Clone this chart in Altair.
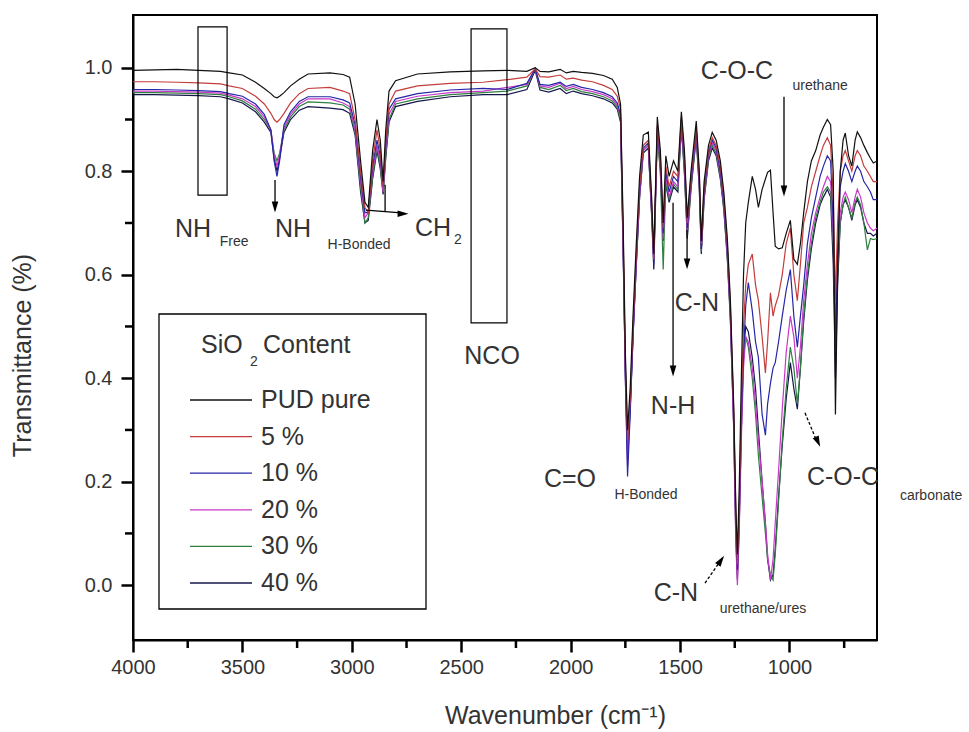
import altair as alt
import pandas as pd

# ---------------- data ----------------
wavenumber = [4000, 3900, 3800, 3700, 3600, 3560, 3500, 3440, 3400, 3370,
              3355, 3342, 3330, 3310, 3280, 3240, 3200, 3100, 3040, 3010,
              2985, 2960, 2940, 2925, 2905, 2885, 2870, 2857, 2845, 2830,
              2800, 2700, 2550, 2400, 2290, 2200, 2162, 2140, 2100, 2048,
              2020, 1988, 1950, 1900, 1850, 1810, 1787, 1772, 1760, 1750,
              1740, 1728, 1715, 1700, 1685, 1668, 1645, 1630, 1620, 1604,
              1590, 1577, 1565, 1550, 1530, 1510, 1494, 1480, 1467, 1450,
              1426, 1412, 1403, 1390, 1370, 1353, 1335, 1316, 1300, 1284,
              1270, 1255, 1245, 1238, 1230, 1220, 1210, 1200, 1188, 1170,
              1155, 1142, 1125, 1110, 1100, 1087, 1075, 1065, 1050, 1033,
              1015, 996, 980, 964, 950, 935, 918, 900, 880, 860,
              845, 827, 812, 800, 790, 780, 768, 755, 745, 730,
              715, 700, 690, 675, 660, 644, 630, 617, 600]

pud_pure = [0.995, 0.996, 0.997, 0.995, 0.993, 0.990, 0.986, 0.972, 0.960, 0.950,
            0.944, 0.942, 0.945, 0.952, 0.965, 0.978, 0.988, 0.990, 0.987, 0.982,
            0.930, 0.820, 0.740, 0.730, 0.840, 0.900, 0.860, 0.780, 0.880, 0.955,
            0.975, 0.988, 0.992, 0.994, 0.995, 0.993, 1.000, 0.993, 0.992, 0.997,
            0.990, 0.993, 0.991, 0.989, 0.985, 0.978, 0.962, 0.930, 0.700, 0.450,
            0.300, 0.380, 0.520, 0.660, 0.790, 0.870, 0.876, 0.750, 0.640, 0.905,
            0.840, 0.700, 0.830, 0.790, 0.820, 0.800, 0.915, 0.840, 0.710, 0.800,
            0.897, 0.800, 0.665, 0.780, 0.850, 0.875, 0.860, 0.820, 0.760, 0.670,
            0.550, 0.350, 0.150, 0.060, 0.180, 0.400, 0.600, 0.700, 0.740, 0.790,
            0.765, 0.730, 0.765, 0.785, 0.798, 0.802, 0.720, 0.655, 0.650, 0.652,
            0.680, 0.705, 0.630, 0.620, 0.660, 0.720, 0.780, 0.820, 0.840, 0.870,
            0.885, 0.900, 0.890, 0.800, 0.330, 0.600, 0.800, 0.860, 0.874, 0.830,
            0.810, 0.860, 0.876, 0.865, 0.850, 0.836, 0.825, 0.816, 0.820]

sio2_5 = [0.973, 0.973, 0.972, 0.971, 0.969, 0.965, 0.960, 0.945, 0.930, 0.912,
          0.900, 0.895, 0.900, 0.912, 0.932, 0.950, 0.960, 0.962, 0.955, 0.950,
          0.900, 0.800, 0.730, 0.720, 0.820, 0.880, 0.840, 0.770, 0.860, 0.930,
          0.955, 0.965, 0.970, 0.972, 0.977, 0.982, 0.998, 0.983, 0.982, 0.986,
          0.978, 0.980, 0.976, 0.973, 0.966, 0.958, 0.945, 0.920, 0.680, 0.430,
          0.280, 0.360, 0.500, 0.640, 0.770, 0.850, 0.860, 0.740, 0.630, 0.890,
          0.830, 0.690, 0.810, 0.770, 0.800, 0.790, 0.905, 0.830, 0.700, 0.790,
          0.885, 0.790, 0.660, 0.770, 0.840, 0.865, 0.850, 0.810, 0.750, 0.660,
          0.540, 0.340, 0.140, 0.040, 0.150, 0.350, 0.500, 0.580, 0.620, 0.640,
          0.580, 0.550, 0.480, 0.410, 0.470, 0.565, 0.520, 0.540, 0.560, 0.600,
          0.660, 0.690, 0.600, 0.550, 0.620, 0.700, 0.730, 0.770, 0.800, 0.830,
          0.850, 0.865, 0.850, 0.750, 0.550, 0.700, 0.800, 0.830, 0.840, 0.820,
          0.800, 0.830, 0.840, 0.830, 0.810, 0.800, 0.790, 0.780, 0.780]

sio2_10 = [0.958, 0.958, 0.957, 0.956, 0.954, 0.950, 0.945, 0.930, 0.910, 0.880,
           0.820, 0.790, 0.820, 0.890, 0.915, 0.935, 0.944, 0.944, 0.938, 0.932,
           0.890, 0.790, 0.720, 0.720, 0.810, 0.860, 0.830, 0.770, 0.850, 0.920,
           0.940, 0.950, 0.957, 0.960, 0.958, 0.970, 0.998, 0.968, 0.966, 0.972,
           0.964, 0.968, 0.962, 0.958, 0.952, 0.944, 0.932, 0.910, 0.660, 0.400,
           0.210, 0.330, 0.480, 0.630, 0.760, 0.845, 0.855, 0.730, 0.620, 0.885,
           0.820, 0.680, 0.800, 0.760, 0.790, 0.780, 0.900, 0.820, 0.690, 0.780,
           0.880, 0.780, 0.650, 0.760, 0.835, 0.860, 0.845, 0.800, 0.740, 0.650,
           0.530, 0.330, 0.120, 0.030, 0.130, 0.320, 0.450, 0.540, 0.585, 0.530,
           0.470, 0.440, 0.330, 0.290, 0.350, 0.390, 0.420, 0.430, 0.470, 0.520,
           0.570, 0.610, 0.520, 0.460, 0.520, 0.580, 0.660, 0.710, 0.750, 0.790,
           0.810, 0.830, 0.820, 0.700, 0.450, 0.650, 0.770, 0.800, 0.815, 0.800,
           0.780, 0.800, 0.810, 0.800, 0.780, 0.770, 0.760, 0.745, 0.745]

sio2_20 = [0.955, 0.955, 0.954, 0.953, 0.951, 0.947, 0.940, 0.925, 0.905, 0.880,
           0.830, 0.810, 0.830, 0.885, 0.910, 0.930, 0.940, 0.940, 0.932, 0.925,
           0.880, 0.780, 0.710, 0.720, 0.800, 0.850, 0.820, 0.760, 0.840, 0.910,
           0.935, 0.945, 0.952, 0.955, 0.962, 0.968, 0.998, 0.965, 0.962, 0.970,
           0.960, 0.964, 0.958, 0.954, 0.948, 0.940, 0.928, 0.905, 0.650, 0.400,
           0.230, 0.340, 0.480, 0.620, 0.750, 0.840, 0.850, 0.720, 0.630, 0.880,
           0.810, 0.670, 0.790, 0.750, 0.780, 0.770, 0.895, 0.810, 0.680, 0.775,
           0.875, 0.775, 0.650, 0.755, 0.830, 0.855, 0.840, 0.795, 0.735, 0.640,
           0.520, 0.300, 0.080, 0.000, 0.100, 0.280, 0.420, 0.480, 0.470, 0.420,
           0.350, 0.280, 0.200, 0.120, 0.060, 0.010, 0.050, 0.120, 0.220, 0.340,
           0.450, 0.520, 0.480, 0.400, 0.460, 0.550, 0.620, 0.680, 0.720, 0.750,
           0.770, 0.790, 0.780, 0.680, 0.500, 0.620, 0.720, 0.750, 0.760, 0.745,
           0.720, 0.750, 0.765, 0.750, 0.720, 0.700, 0.690, 0.685, 0.690]

sio2_30 = [0.952, 0.952, 0.951, 0.950, 0.948, 0.944, 0.936, 0.920, 0.900, 0.880,
           0.835, 0.820, 0.835, 0.880, 0.905, 0.925, 0.934, 0.932, 0.928, 0.920,
           0.875, 0.770, 0.700, 0.710, 0.790, 0.845, 0.810, 0.760, 0.830, 0.900,
           0.930, 0.940, 0.948, 0.952, 0.955, 0.965, 0.998, 0.962, 0.958, 0.966,
           0.956, 0.960, 0.954, 0.950, 0.944, 0.936, 0.924, 0.900, 0.650, 0.420,
           0.270, 0.350, 0.490, 0.620, 0.750, 0.840, 0.850, 0.720, 0.640, 0.875,
           0.800, 0.610, 0.780, 0.745, 0.775, 0.765, 0.890, 0.800, 0.675, 0.770,
           0.870, 0.770, 0.645, 0.750, 0.825, 0.850, 0.835, 0.790, 0.730, 0.635,
           0.520, 0.310, 0.100, 0.020, 0.120, 0.300, 0.440, 0.480, 0.460, 0.400,
           0.330, 0.250, 0.170, 0.100, 0.050, 0.020, 0.010, 0.060, 0.160, 0.280,
           0.380, 0.460, 0.420, 0.350, 0.420, 0.520, 0.600, 0.660, 0.710, 0.740,
           0.760, 0.770, 0.760, 0.660, 0.500, 0.600, 0.700, 0.735, 0.750, 0.730,
           0.710, 0.740, 0.750, 0.735, 0.700, 0.648, 0.670, 0.668, 0.670]

sio2_40 = [0.948, 0.948, 0.947, 0.946, 0.944, 0.940, 0.932, 0.915, 0.895, 0.875,
           0.825, 0.800, 0.825, 0.875, 0.900, 0.918, 0.925, 0.922, 0.919, 0.912,
           0.870, 0.760, 0.700, 0.705, 0.785, 0.840, 0.805, 0.755, 0.825, 0.895,
           0.925, 0.935, 0.944, 0.948, 0.948, 0.958, 0.995, 0.957, 0.953, 0.960,
           0.950, 0.955, 0.950, 0.946, 0.940, 0.932, 0.920, 0.895, 0.640, 0.410,
           0.250, 0.340, 0.480, 0.620, 0.750, 0.835, 0.845, 0.715, 0.610, 0.870,
           0.800, 0.665, 0.775, 0.740, 0.770, 0.760, 0.885, 0.795, 0.670, 0.765,
           0.865, 0.765, 0.640, 0.745, 0.820, 0.845, 0.830, 0.785, 0.725, 0.630,
           0.510, 0.310, 0.090, 0.010, 0.110, 0.300, 0.450, 0.500, 0.490, 0.440,
           0.380, 0.300, 0.200, 0.120, 0.050, 0.010, 0.020, 0.070, 0.170, 0.270,
           0.360, 0.430, 0.380, 0.340, 0.420, 0.510, 0.590, 0.650, 0.700, 0.735,
           0.750, 0.765, 0.750, 0.620, 0.400, 0.580, 0.700, 0.735, 0.745, 0.730,
           0.705, 0.735, 0.745, 0.730, 0.700, 0.680, 0.680, 0.675, 0.680]

series_names = ["PUD pure", "5 %", "10 %", "20 %", "30 %", "40 %"]
series_values = [pud_pure, sio2_5, sio2_10, sio2_20, sio2_30, sio2_40]
series_colors = ["#111111", "#c43c3c", "#2626a6", "#c838c8", "#2f7f3f", "#16164c"]

for v in series_values:
    assert len(v) == len(wavenumber)

x_major = [4000, 3500, 3000, 2500, 2000, 1500, 1000]
x_minor = [3750, 3250, 2750, 2250, 1750, 1250, 750]
y_major = [0.0, 0.2, 0.4, 0.6, 0.8, 1.0]
y_minor = [0.1, 0.3, 0.5, 0.7, 0.9]

# annotations (in data coordinates)
main_labels = ["NH", "NH", "CH", "NCO", "C-N", "N-H", "C=O", "C-N", "C-O-C", "C-O-C"]
main_wn = [3726, 3269, 2629, 2359, 1423, 1532, 2003, 1519, 1240, 755]
main_t = [0.689, 0.689, 0.690, 0.443, 0.545, 0.346, 0.205, -0.015, 0.994, 0.209]

sub_labels = ["Free", "H-Bonded", "2", "H-Bonded", "urethane/ures", "urethane", "carbonate"]
sub_wn = [3538, 2967, 2515, 1656, 1121, 860, 353]
sub_t = [0.663, 0.658, 0.667, 0.174, -0.046, 0.965, 0.172]

box_wn = [3703, 2455]
box_wn2 = [3570, 2291]
box_t = [1.079, 1.075]
box_t2 = [0.754, 0.507]

arrow_wn = [3351, 2935, 2848, 1532, 1468, 1025]
arrow_wn2 = [3351, 2789, 2848, 1532, 1468, 1025]
arrow_t = [0.783, 0.725, 0.774, 0.739, 0.687, 0.944]
arrow_t2 = [0.725, 0.720, 0.721, 0.420, 0.625, 0.765]

dash_wn = [929, 1386]
dash_wn2 = [874, 1317]
dash_t = [0.333, 0.004]
dash_t2 = [0.277, 0.046]

head_wn = [3351, 2766, 1532, 1468, 1025, 870, 1313]
head_t = [0.731, 0.718, 0.414, 0.621, 0.762, 0.277, 0.048]
head_angle = [180, 90, 180, 180, 180, 156, 35]

# ---------------- build tables ----------------
rows = []
for name, vals in reversed(list(zip(series_names, series_values))):
    for w, v in zip(wavenumber, vals):
        rows.append({"wn": w, "T": v, "series": name})
df = pd.DataFrame(rows)

FONT = "Liberation Sans"
TXT = "#333333"
PLOT_W, PLOT_H = 744, 625

xs = alt.Scale(domain=[4000, 600], nice=False, zero=False)
ys = alt.Scale(domain=[-0.106, 1.102], nice=False, zero=False)
cs = alt.Scale(domain=series_names, range=series_colors)

x_axis = alt.Axis(values=x_major, format="d", title="Wavenumber (cm⁻¹)",
                  titleX=422, titleY=75)
y_axis = alt.Axis(values=y_major, format=".1f", title="Transmittance (%)",
                  titleX=-111, titleY=340)


def X(f="wn"):
    return alt.X(f"{f}:Q", scale=xs, axis=x_axis)


def Y(f="T"):
    return alt.Y(f"{f}:Q", scale=ys, axis=y_axis)


lines = alt.Chart(df).mark_line(strokeWidth=1.2).encode(
    x=X(), y=Y(),
    color=alt.Color("series:N", scale=cs, legend=None),
    detail="series:N",
)

# minor ticks (short outward ticks at the minor tick values)
xminor = alt.Chart(pd.DataFrame({"wn": x_minor})).mark_rule(color="black", strokeWidth=2.5).encode(
    x=X(), y=alt.value(PLOT_H), y2=alt.value(PLOT_H + 8)
)
yminor = alt.Chart(pd.DataFrame({"T": y_minor})).mark_rule(color="black", strokeWidth=2.5).encode(
    y=Y(), x=alt.value(0), x2=alt.value(-8)
)

main_df = pd.DataFrame({"wn": main_wn, "T": main_t, "label": main_labels})
main_text = alt.Chart(main_df).mark_text(
    font=FONT, fontSize=25, color=TXT, align="center", baseline="middle"
).encode(x=X(), y=Y(), text="label:N")

sub_df = pd.DataFrame({"wn": sub_wn, "T": sub_t, "label": sub_labels})
sub_text = alt.Chart(sub_df).mark_text(
    font=FONT, fontSize=14, color=TXT, align="center", baseline="middle"
).encode(x=X(), y=Y(), text="label:N")

box_df = pd.DataFrame({"wn": box_wn, "wn2": box_wn2, "T": box_t, "T2": box_t2})
boxes = alt.Chart(box_df).mark_rect(filled=False, stroke="black", strokeWidth=1.2).encode(
    x=X(), x2="wn2:Q", y=Y(), y2="T2:Q"
)

arrow_df = pd.DataFrame({"wn": arrow_wn, "wn2": arrow_wn2, "T": arrow_t, "T2": arrow_t2})
arrows = alt.Chart(arrow_df).mark_rule(color="black", strokeWidth=1.3).encode(
    x=X(), x2="wn2:Q", y=Y(), y2="T2:Q"
)

dash_df = pd.DataFrame({"wn": dash_wn, "wn2": dash_wn2, "T": dash_t, "T2": dash_t2})
dashes = alt.Chart(dash_df).mark_rule(color="black", strokeWidth=1.3, strokeDash=[3, 2]).encode(
    x=X(), x2="wn2:Q", y=Y(), y2="T2:Q"
)

head_df = pd.DataFrame({"wn": head_wn, "T": head_t, "ang": head_angle})
heads = alt.Chart(head_df).mark_point(
    shape="M0,-1L0.6,1L-0.6,1Z", filled=True, size=120, color="black", opacity=1
).encode(x=X(), y=Y(), angle=alt.Angle("ang:Q", scale=None))

# ---------------- legend (drawn inside the plot) ----------------
leg_df = pd.DataFrame({"series": series_names, "idx": list(range(len(series_names)))})
row_y = alt.value({"expr": "385 + datum.idx * 36.6"})

leg_frame = alt.Chart(pd.DataFrame({"k": [0]})).mark_rect(
    filled=False, stroke="black", strokeWidth=1.3
).encode(x=alt.value(26), x2=alt.value(293), y=alt.value(299), y2=alt.value(594))

leg_lines = alt.Chart(leg_df).mark_rule(strokeWidth=1.3).encode(
    x=alt.value(57), x2=alt.value(119),
    y=row_y,
    color=alt.Color("series:N", scale=cs, legend=None),
)
leg_labels = alt.Chart(leg_df).mark_text(
    font=FONT, fontSize=25, color=TXT, align="left", baseline="middle"
).encode(x=alt.value(128), y=row_y, text="series:N")

leg_title_df = pd.DataFrame({"k": [0]})
leg_t1 = alt.Chart(leg_title_df).mark_text(
    font=FONT, fontSize=25, color=TXT, align="left", baseline="middle", text="SiO"
).encode(x=alt.value(68), y=alt.value(330))
leg_t2 = alt.Chart(leg_title_df).mark_text(
    font=FONT, fontSize=14, color=TXT, align="center", baseline="middle", text="2"
).encode(x=alt.value(121), y=alt.value(347))
leg_t3 = alt.Chart(leg_title_df).mark_text(
    font=FONT, fontSize=25, color=TXT, align="left", baseline="middle", text="Content"
).encode(x=alt.value(130), y=alt.value(330))

chart = alt.layer(
    lines, xminor, yminor, boxes, arrows, dashes, heads, main_text, sub_text,
    leg_frame, leg_lines, leg_labels, leg_t1, leg_t2, leg_t3,
).properties(
    width=PLOT_W, height=PLOT_H,
    autosize=alt.AutoSizeParams(type="none"),
    padding={"left": 133, "top": 15, "right": 92, "bottom": 92},
    background="white",
).configure_view(
    stroke="black", strokeWidth=2
).configure_axis(
    grid=False, ticks=True, tickSize=12, tickWidth=2.5, tickColor="black",
    domain=True, domainWidth=2, domainColor="black",
    labelFont=FONT, labelFontSize=20, labelColor=TXT,
    labelFlush=False, labelOverlap=False,
    titleFont=FONT, titleFontSize=25, titleFontWeight="normal", titleColor=TXT,
    titleAlign="center", titleBaseline="middle",
).configure_axisX(
    labelPadding=5
).configure_axisY(
    labelPadding=9, titleAngle=270
)

chart.save("out.html", embed_options={"renderer": "svg", "actions": False})
